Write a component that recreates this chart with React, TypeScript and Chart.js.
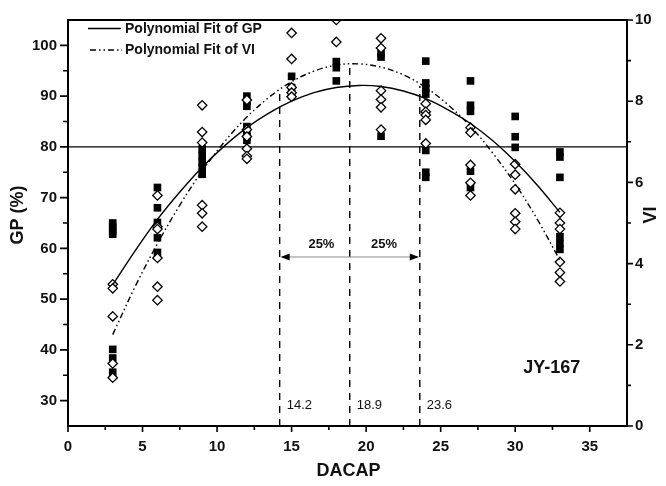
import { useEffect, useRef } from "react";
import { Chart, registerables } from "chart.js";

Chart.register(...registerables);

// ---------- data ----------
const DACAP = [3, 6, 9, 12, 15, 18, 21, 24, 27, 30, 33];

// germination percentage observations (filled squares, left axis)
const GP_OBS: number[][] = [
  [65.0, 64.2, 63.4, 62.8, 40.1, 38.4, 35.6],
  [72.0, 68.0, 65.1, 62.1, 59.2],
  [79.6, 78.3, 77.0, 75.8, 74.6],
  [90.0, 89.0, 88.0, 84.0, 83.0, 82.0, 81.3],
  [93.9, 91.7, 90.1],
  [96.8, 95.6, 93.0],
  [98.4, 97.7, 82.1],
  [96.9, 92.6, 91.5, 90.4, 79.3, 75.0, 74.0],
  [93.0, 88.2, 87.0, 75.2, 72.0],
  [86.0, 82.0, 79.9],
  [79.0, 78.0, 74.0, 62.3, 61.0, 59.8],
];

// vigour index observations (open diamonds, right axis)
const VI_OBS: number[][] = [
  [3.49, 3.39, 2.7, 1.54, 1.19],
  [5.68, 4.91, 4.85, 4.14, 3.43, 3.1],
  [7.9, 7.24, 6.98, 5.44, 5.24, 4.91],
  [8.03, 7.3, 7.13, 6.83, 6.65, 6.58],
  [9.68, 9.04, 8.34, 8.21, 8.11],
  [10.0, 9.46],
  [9.55, 9.31, 8.26, 8.04, 7.85, 7.3],
  [7.94, 7.74, 7.66, 7.54, 6.96],
  [7.35, 7.23, 6.43, 5.99, 5.68],
  [6.45, 6.19, 5.83, 5.24, 5.03, 4.85],
  [5.25, 5.0, 4.85, 4.04, 3.78, 3.56],
];

// fitted curves
const FIT_X = [3, 4.5, 6, 7.5, 9, 10.5, 12, 13.5, 15, 16.5, 18, 19.5, 21, 22.5, 24, 25.5, 27, 28.5, 30, 31.5, 33];
const GP_FIT = [52.8, 59.5, 65.7, 71.1, 76.0, 80.2, 83.8, 86.7, 89.0, 90.7, 91.7, 92.1, 91.9, 91.0, 89.5, 87.3, 84.6, 81.2, 77.1, 72.4, 67.1];
const VI_FIT = [2.25, 3.43, 4.49, 5.44, 6.28, 7.0, 7.61, 8.1, 8.48, 8.74, 8.89, 8.92, 8.84, 8.65, 8.34, 7.91, 7.38, 6.72, 5.96, 5.08, 4.08];

// reference lines
const GP_THRESHOLD = 80;
const MARK_X = [14.2, 18.9, 23.6];
const MARK_TOP = [91.5, 96.3, 92.0]; // GP units, where dashed markers stop
const ARROW_Y = 58.3;
const PCT_LABELS = ["25%", "25%"];
const PCT_X = [17.0, 21.2];
const PCT_Y = 60.7;
const SAMPLE_LABEL = "JY-167";

const FONT = "'Liberation Sans', Arial, Helvetica, sans-serif";
const DASH_DOT = [6, 3, 1.5, 3, 1.5, 3];

const gpPoints = DACAP.flatMap((d, i) => GP_OBS[i].map((v) => ({ x: d, y: v })));
const viPoints = DACAP.flatMap((d, i) => VI_OBS[i].map((v) => ({ x: d, y: v })));
const gpFit = FIT_X.map((x, i) => ({ x, y: GP_FIT[i] }));
const viFit = FIT_X.map((x, i) => ({ x, y: VI_FIT[i] }));

const decor = {
  id: "decor",
  afterDatasetsDraw(chart: any) {
    const ctx: CanvasRenderingContext2D = chart.ctx;
    const { left, right, top, bottom } = chart.chartArea;
    const xs = chart.scales.x;
    const ys = chart.scales.y;
    const y2 = chart.scales.y2;
    ctx.save();
    ctx.strokeStyle = "#000";
    ctx.fillStyle = "#000";

    // arrow between the markers
    const ax1 = xs.getPixelForValue(MARK_X[0]);
    const ax2 = xs.getPixelForValue(MARK_X[2]);
    const ay = ys.getPixelForValue(ARROW_Y);
    ctx.strokeStyle = "#8a8a8a";
    ctx.lineWidth = 1.2;
    ctx.beginPath();
    ctx.moveTo(ax1 + 2, ay);
    ctx.lineTo(ax2 - 2, ay);
    ctx.stroke();
    ctx.fillStyle = "#000";
    ctx.beginPath();
    ctx.moveTo(ax1 + 1, ay);
    ctx.lineTo(ax1 + 10, ay - 3.5);
    ctx.lineTo(ax1 + 10, ay + 3.5);
    ctx.closePath();
    ctx.fill();
    ctx.beginPath();
    ctx.moveTo(ax2 - 1, ay);
    ctx.lineTo(ax2 - 10, ay - 3.5);
    ctx.lineTo(ax2 - 10, ay + 3.5);
    ctx.closePath();
    ctx.fill();

    // texts inside plot
    ctx.fillStyle = "#111";
    ctx.font = `bold 13px ${FONT}`;
    ctx.textAlign = "center";
    ctx.textBaseline = "middle";
    PCT_LABELS.forEach((t, i) => ctx.fillText(t, xs.getPixelForValue(PCT_X[i]), ys.getPixelForValue(PCT_Y)));

    ctx.font = `13px ${FONT}`;
    ctx.textAlign = "left";
    MARK_X.forEach((m) => {
      ctx.fillText(m.toFixed(1), xs.getPixelForValue(m) + 7, bottom - 21);
    });

    ctx.font = `bold 18px ${FONT}`;
    ctx.textAlign = "center";
    ctx.fillText(SAMPLE_LABEL, xs.getPixelForValue(32.45), ys.getPixelForValue(36.5));

    // legend
    ctx.strokeStyle = "#000";
    ctx.lineWidth = 1.3;
    ctx.beginPath();
    ctx.moveTo(88, 28.5);
    ctx.lineTo(121, 28.5);
    ctx.stroke();
    ctx.setLineDash(DASH_DOT);
    ctx.beginPath();
    ctx.moveTo(90, 50);
    ctx.lineTo(122, 50);
    ctx.stroke();
    ctx.setLineDash([]);
    ctx.font = `bold 14px ${FONT}`;
    ctx.textAlign = "left";
    ctx.fillStyle = "#111";
    ctx.fillText("Polynomial Fit of GP", 125, 29);
    ctx.fillText("Polynomial Fit of VI", 125, 50);

    // frame
    ctx.strokeStyle = "#000";
    ctx.lineWidth = 2;
    ctx.strokeRect(left, top, right - left, bottom - top);

    // tick marks
    ctx.lineWidth = 1.6;
    ctx.beginPath();
    xs.ticks.forEach((t: any) => {
      if (t.value >= 37.5) return;
      const px = xs.getPixelForValue(t.value);
      const len = t.value % 5 === 0 ? 6 : 4;
      ctx.moveTo(px, bottom);
      ctx.lineTo(px, bottom + len);
    });
    ys.ticks.forEach((t: any) => {
      if (t.value <= 25 || t.value >= 105) return;
      const py = ys.getPixelForValue(t.value);
      const len = t.value % 10 === 0 ? 8 : 5;
      ctx.moveTo(left, py);
      ctx.lineTo(left - len, py);
    });
    y2.ticks.forEach((t: any) => {
      const py = y2.getPixelForValue(t.value);
      const len = t.value % 2 === 0 ? 6 : 4;
      ctx.moveTo(right, py);
      ctx.lineTo(right + len, py);
    });
    ctx.stroke();

    // axis titles
    ctx.fillStyle = "#111";
    ctx.font = `bold 18px ${FONT}`;
    ctx.textAlign = "center";
    ctx.textBaseline = "middle";
    ctx.fillText("DACAP", (left + right) / 2 + 1, 471);
    ctx.save();
    ctx.translate(18, 215);
    ctx.rotate(-Math.PI / 2);
    ctx.fillText("GP (%)", 0, 0);
    ctx.restore();
    ctx.save();
    ctx.translate(651, 215);
    ctx.rotate(-Math.PI / 2);
    ctx.fillText("VI", 0, 0);
    ctx.restore();

    ctx.restore();
  },
};

export default function App() {
  const ref = useRef<HTMLCanvasElement>(null);
  useEffect(() => {
    const tickFont = { family: FONT, size: 15, weight: "bold" as const };
    const chart = new Chart(ref.current!, {
      type: "scatter",
      data: {
        datasets: [
          {
            type: "line",
            label: "Polynomial Fit of GP",
            data: gpFit,
            yAxisID: "y",
            borderColor: "#000",
            borderWidth: 1.4,
            pointRadius: 0,
            tension: 0.35,
            fill: false,
          },
          {
            type: "line",
            label: "Polynomial Fit of VI",
            data: viFit,
            yAxisID: "y2",
            borderColor: "#000",
            borderWidth: 1.4,
            borderDash: DASH_DOT,
            pointRadius: 0,
            tension: 0.35,
            fill: false,
          },
          {
            label: "VI",
            data: viPoints,
            yAxisID: "y2",
            pointStyle: "rectRot",
            pointRadius: 4.7,
            backgroundColor: "#fff",
            borderColor: "#000",
            borderWidth: 1.3,
            clip: 0,
          },
          {
            label: "GP",
            data: gpPoints,
            yAxisID: "y",
            pointStyle: "rect",
            pointRadius: 5.4,
            backgroundColor: "#000",
            borderColor: "#000",
            borderWidth: 0,
          },
          {
            type: "line",
            label: "threshold",
            data: [
              { x: 0, y: GP_THRESHOLD },
              { x: 37.5, y: GP_THRESHOLD },
            ],
            yAxisID: "y",
            borderColor: "#000",
            borderWidth: 1.2,
            pointRadius: 0,
          },
          ...MARK_X.map((m, i) => ({
            type: "line" as const,
            label: "mark" + i,
            data: [
              { x: m, y: 25 },
              { x: m, y: MARK_TOP[i] },
            ],
            yAxisID: "y",
            borderColor: "#000",
            borderWidth: 1.4,
            borderDash: [7, 6],
            pointRadius: 0,
          })),
        ] as any,
      },
      options: {
        animation: false,
        responsive: false,
        devicePixelRatio: 1,
        layout: { padding: { top: 7, left: 0, right: 0, bottom: 0 } },
        plugins: { legend: { display: false }, tooltip: { enabled: false } },
        scales: {
          x: {
            type: "linear",
            min: 0,
            max: 37.5,
            grid: { display: false, drawTicks: false },
            border: { display: false },
            ticks: {
              stepSize: 2.5,
              autoSkip: false,
              maxRotation: 0,
              color: "#111",
              font: tickFont,
              padding: 12,
              callback: (v: any) => (Number(v) % 5 === 0 ? String(v) : ""),
            },
            afterFit: (s: any) => {
              s.height = 60;
            },
          },
          y: {
            type: "linear",
            position: "left",
            min: 25,
            max: 105,
            grid: { display: false, drawTicks: false },
            border: { display: false },
            ticks: {
              stepSize: 5,
              autoSkip: false,
              color: "#111",
              font: tickFont,
              padding: 11,
              callback: (v: any) => (Number(v) % 10 === 0 ? String(v) : ""),
            },
            afterFit: (s: any) => {
              s.width = 68;
            },
          },
          y2: {
            type: "linear",
            position: "right",
            min: 0,
            max: 10,
            grid: { display: false, drawTicks: false },
            border: { display: false },
            ticks: {
              stepSize: 1,
              autoSkip: false,
              color: "#111",
              font: tickFont,
              padding: 8,
              callback: (v: any) => (Number(v) % 2 === 0 ? String(v) : ""),
            },
            afterFit: (s: any) => {
              s.width = 39;
            },
          },
        },
      },
      plugins: [decor],
    });
    return () => chart.destroy();
  }, []);
  return (
    <div style={{ position: "absolute", left: 0, top: 0, width: 666, height: 486, background: "#fff" }}>
      <canvas ref={ref} width={666} height={486} style={{ width: 666, height: 486, display: "block" }} />
    </div>
  );
}
